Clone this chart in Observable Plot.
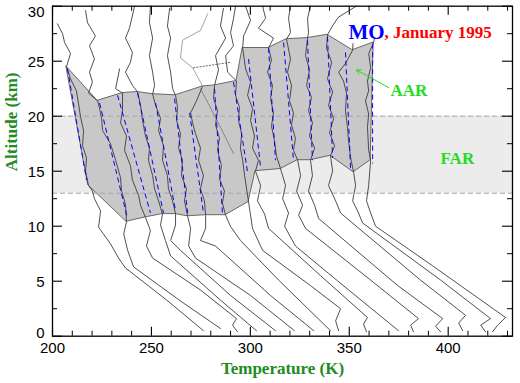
<!DOCTYPE html>
<html><head><meta charset="utf-8">
<script src="https://cdn.jsdelivr.net/npm/d3@7"></script>
<script src="https://cdn.jsdelivr.net/npm/@observablehq/plot@0.6"></script>
<style>html,body{margin:0;padding:0;background:#fff;} svg{display:block;}</style>
</head><body><div id="chart"></div>
<script>
// ---- data: temperature profiles [T (K, offset), altitude (km)] ----
const P0 = [[276.3,0.5],[257.6,3.3],[236.9,6.2],[233.4,7.1],[229.3,8.4],[223.3,9.9],[224.3,11.4],[221.2,12.5],[220.2,13.2],[218.2,13.7],[216.7,15.0],[217.2,16.2],[215.2,17.3],[215.7,18.7],[214.2,19.9],[213.1,21.2],[212.1,22.3],[209.1,23.4],[207.1,24.5],[209.1,25.7],[206.1,26.7],[205.1,27.5],[202.5,28.4]];
const P1 = [[284.9,0.7],[264.7,3.2],[241.0,6.3],[238.0,7.8],[236.0,9.3],[237.4,10.4],[236.9,12.0],[234.9,13.2],[234.4,14.4],[231.9,16.0],[229.3,17.5],[225.3,18.7],[224.8,19.8],[223.8,20.7],[222.8,21.4],[218.2,22.1],[220.2,23.1],[218.7,24.0],[221.2,25.2],[218.7,26.4],[221.7,27.3],[217.7,28.5],[216.7,29.6]];
const P2 = [[293.5,0.4],[291.0,1.0],[293.0,1.6],[274.8,4.2],[250.6,7.1],[247.5,8.2],[249.5,9.6],[247.0,10.8],[244.5,11.9],[243.5,12.8],[240.4,14.2],[239.4,15.5],[236.4,16.9],[237.4,18.2],[234.4,19.4],[235.4,20.5],[235.4,22.1],[231.9,22.5],[233.9,24.3]];
const P3 = [[303.1,0.5],[285.4,3.2],[259.7,7.3],[257.1,8.7],[254.6,10.1],[255.6,11.1],[253.6,12.3],[251.6,13.4],[250.6,14.6],[248.5,16.0],[249.0,17.1],[247.0,18.2],[245.5,19.6],[244.5,21.0],[243.0,22.2],[240.4,22.8],[236.9,24.0],[239.4,24.9],[240.4,25.8],[236.9,27.1],[238.9,28.0],[241.5,30.0]];
const P4 = [[312.7,0.5],[290.0,3.7],[264.7,7.8],[259.7,8.7],[262.2,10.1],[262.2,11.1],[260.7,12.3],[258.6,13.4],[258.1,14.6],[255.6,16.0],[256.1,17.3],[253.6,18.7],[254.6,19.8],[252.1,21.0],[250.6,22.0],[251.6,22.8],[250.6,24.0],[249.0,25.5],[250.6,27.1],[249.0,28.5],[249.5,30.0]];
const P5 = [[322.3,0.5],[300.1,3.7],[272.3,7.1],[268.8,8.2],[269.8,9.8],[268.3,10.9],[266.7,12.3],[267.7,13.4],[265.2,14.6],[265.7,16.0],[263.7,17.1],[264.7,18.4],[262.7,19.6],[263.2,20.8],[262.2,21.9],[260.7,22.5],[259.7,24.0],[258.1,25.5],[259.7,27.1],[258.1,28.2],[259.2,29.8]];
const P6 = [[332.0,0.5],[310.2,3.7],[282.4,8.2],[274.8,8.7],[277.4,9.8],[277.4,11.0],[276.8,12.3],[274.8,13.4],[276.3,14.6],[273.8,16.0],[274.8,17.1],[272.3,18.4],[270.8,19.4],[269.8,20.3],[272.8,21.4],[275.8,22.7]];
const P6upper = [[275.8,22.7],[274.8,23.1],[270.8,24.4],[264.7,25.3],[265.7,26.9],[274.8,27.8],[278.4,29.3]];
const P7 = [[340.5,0.5],[314.3,5.1],[295.0,8.7],[289.9,10.0],[287.5,11.0],[285.9,12.1],[286.9,13.2],[284.4,14.3],[285.4,15.5],[283.4,16.9],[284.4,18.0],[282.4,19.2],[283.4,20.5],[281.4,21.6],[281.9,22.8],[283.9,24.2],[282.4,25.5],[287.5,27.1],[284.9,28.2],[286.4,29.8]];
const P8 = [[344.6,0.5],[343.1,1.4],[345.6,2.5],[330.4,4.6],[306.2,7.8],[301.1,9.8],[300.1,11.0],[299.1,12.2],[298.1,13.4],[297.1,14.6],[296.1,16.0],[295.0,17.1],[295.6,18.4],[294.0,19.6],[294.5,20.8],[292.5,21.9],[293.0,23.2],[288.5,24.0],[287.5,25.5],[291.5,26.4],[290.0,27.6],[291.5,28.9],[292.5,30.0]];
const P9 = [[358.7,0.4],[357.2,1.1],[359.2,1.7],[335.5,5.5],[309.2,9.8],[307.2,11.1],[303.6,12.3],[305.2,13.7],[302.6,15.0],[304.1,16.0],[301.1,17.1],[302.1,18.2],[300.1,19.6],[301.1,20.7],[298.6,21.9],[300.1,23.1],[297.6,24.3],[296.1,26.2],[296.6,27.3],[300.1,28.7],[297.6,30.0]];
const P10 = [[374.9,0.5],[349.7,4.2],[322.8,8.2],[317.3,10.0],[319.3,11.2],[316.3,12.5],[317.8,13.7],[315.3,15.2],[313.2,16.4],[312.2,17.8],[310.7,19.1],[311.7,20.3],[310.2,21.6],[311.2,22.8],[308.7,24.0],[310.7,25.1],[309.2,26.2],[311.7,27.1],[304.1,28.0],[307.7,28.9],[306.2,30.0]];
const P11 = [[382.5,0.4],[381.0,1.0],[385.0,1.6],[360.8,5.1],[327.9,9.8],[324.4,11.0],[326.4,11.9],[323.4,13.2],[325.4,14.6],[323.9,16.0],[321.8,16.9],[322.8,18.0],[320.8,19.2],[321.8,20.3],[319.8,21.4],[320.8,22.8],[318.8,24.0],[320.3,25.2],[318.3,27.0],[320.3,27.6],[319.3,28.9],[320.3,30.0]];
const P12 = [[396.2,0.4],[393.6,0.9],[397.2,1.6],[374.5,4.6],[334.5,10.7],[332.5,11.9],[329.4,13.2],[331.4,14.6],[330.4,16.0],[332.5,17.1],[329.9,18.2],[331.4,19.4],[329.4,20.5],[330.9,21.7],[328.4,22.8],[329.9,24.2],[327.9,25.5],[328.9,27.1],[329.4,27.6],[328.9,28.9],[330.4,30.0]];
const P13 = [[407.3,0.5],[405.3,1.2],[408.8,1.9],[386.0,5.1],[345.6,11.2],[343.1,12.3],[339.5,13.7],[341.6,15.0],[340.5,16.4],[342.6,17.3],[340.0,18.5],[342.1,19.8],[339.5,21.0],[341.6,22.2],[339.0,23.4],[341.1,24.9],[338.5,26.2],[339.0,27.4],[341.5,28.2],[344.5,29.0],[349.0,29.5],[353.5,30.0]];
const P14 = [[418.9,0.4],[416.4,1.0],[421.4,1.6],[396.2,5.1],[356.7,10.3],[354.7,11.2],[351.7,12.3],[353.2,13.7],[352.2,14.9],[350.7,16.2],[349.6,17.8],[349.1,19.0],[348.1,20.5],[348.6,22.1],[347.1,23.2],[344.6,24.0],[348.1,24.8],[351.7,26.0],[351.9,26.6]];
const P15 = [[422.4,0.4],[425.0,1.0],[429.0,1.7],[392.1,6.4],[363.3,10.0],[360.8,11.2],[358.7,12.3],[359.8,13.7],[360.8,16.0],[359.8,16.9],[359.2,19.0],[359.8,20.2],[358.2,21.4],[359.8,22.3],[359.2,23.2],[360.8,24.4],[359.8,25.7],[362.3,26.7],[362.8,27.1]];
const dottedSeg = [[271.3,24.4],[290.0,24.9]];
const diagSeg = [[274.8,22.5],[282.4,19.9],[291.5,16.6]];

// AAR polygon: top and bottom vertex of each profile
const aarTopT = [207.1,222.8,235.4,243.0,250.6,262.2,275.8,281.9,293.0,296.1,309.2,318.3,328.9,339.0,351.7,362.3];
const aarTopZ = [24.5,21.4,22.1,22.2,22.0,21.9,22.7,22.8,23.2,26.2,26.2,27.0,27.1,27.4,26.0,26.7];
const aarBotT = [218.2,237.4,247.0,255.6,262.2,268.3,277.4,287.5,299.1,302.6,315.3,323.9,330.4,340.5,352.2,360.8];
const aarBotZ = [13.7,10.4,10.8,11.1,11.1,10.9,11.0,11.0,12.2,15.0,15.2,16.0,16.0,16.4,14.9,16.0];

// linear fits (blue dashed) in the AAR
const fitTopT = [207.6,223.8,232.9,243.0,252.1,261.7,269.3,281.9,291.5,299.1,309.2,316.8,328.9,339.0,348.1,361.8];
const fitTopZ = [24.3,21.2,21.9,22.1,21.2,21.6,20.3,22.5,23.1,25.2,26.2,26.7,26.9,27.2,25.8,26.6];
const fitBotT = [217.2,237.9,249.5,256.1,262.2,268.3,276.3,285.9,298.6,305.2,312.7,321.8,331.4,341.6,350.7,361.8];
const fitBotZ = [14.2,10.7,11.2,11.2,11.4,11.2,11.2,11.2,14.9,15.3,16.0,16.0,16.0,16.2,15.1,15.7];

// FAR layer (km)
const farRange = [13, 20];

// axes
const xDomain = [200, 432.5];
const yDomain = [0, 30];
const xMajor = [200,250,300,350,400];
const xMajorLabels = ["200","250","300","350","400"];
const xMinor = [210,220,230,240,260,270,280,290,310,320,330,340,360,370,380,390,410,420,430];
const yMajor = [0,5,10,15,20,25,30];
const yMajorLabels = ["0","5","10","15","20","25","30"];
const yMinor = [2.5,7.5,12.5,17.5,22.5,27.5];

// ---- build tables ----
const profiles = [P0,P1,P2,P3,P4,P5,P6,P7,P8,P9,P10,P11,P12,P13,P14,P15];
const profileRows = profiles.flatMap((pts, id) => pts.map(([T, z]) => ({T, z, id})));
const lightRows = P6upper.map(([T, z]) => ({T, z}));
const dottedRows = dottedSeg.map(([T, z]) => ({T, z}));
const diagRows = diagSeg.map(([T, z]) => ({T, z}));
const aarRows = aarTopT.map((t, i) => ({tt: t, zt: aarTopZ[i], tb: aarBotT[i], zb: aarBotZ[i]}));
const fitRows = fitTopT.map((t, i) => ({t1: t, z1: fitTopZ[i], t2: fitBotT[i], z2: fitBotZ[i]}));
const yLabelRows = yMajor.map((v, i) => ({v, label: yMajorLabels[i]}));
const yInner = yLabelRows.filter(d => d.v > yDomain[0] && d.v < yDomain[1]);
const yBottomLab = yLabelRows.filter(d => d.v === yDomain[0]);
const yTopLab = yLabelRows.filter(d => d.v === yDomain[1]);

const W = 520, H = 383, mL = 52, mR = 8, mT = 5.7, mB = 47.3;
const PH = H - mT - mB, PW = W - mL - mR;
const green = "#228b22", bright = "#22dd22";
const serif = "Liberation Serif, Times New Roman, serif";
const sans = "Liberation Sans, Arial, sans-serif";
const yLab = {y: "v", text: "label", frameAnchor: "left", dx: -8, textAnchor: "end", fontSize: 15, fontFamily: sans, fill: "black"};

const chart = Plot.plot({
  width: W, height: H,
  marginLeft: mL, marginRight: mR, marginTop: mT, marginBottom: mB,
  x: {domain: xDomain, axis: null},
  y: {domain: yDomain, axis: null},
  style: {background: "white", overflow: "visible"},
  marks: [
    Plot.rect([farRange], {x1: () => xDomain[0], x2: () => xDomain[1], y1: d => d[0], y2: d => d[1], fill: "#ececec"}),
    Plot.area(aarRows, {x1: "tb", y1: "zb", x2: "tt", y2: "zt", fill: "#c8c8c8", stroke: "#5a5a5a", strokeWidth: 0.9}),
    Plot.ruleY(farRange, {y: d => d, stroke: "#a6a6a6", strokeDasharray: "5,3", strokeWidth: 1}),
    Plot.line(profileRows, {x: "T", y: "z", z: "id", stroke: "#3c3c3c", strokeWidth: 0.9}),
    Plot.line(lightRows, {x: "T", y: "z", stroke: "#8a8a8a", strokeWidth: 0.8}),
    Plot.line(diagRows, {x: "T", y: "z", stroke: "#6a6a6a", strokeWidth: 0.7}),
    Plot.line(dottedRows, {x: "T", y: "z", stroke: "#555", strokeWidth: 0.9, strokeDasharray: "1.2,2"}),
    Plot.link(fitRows, {x1: "t1", y1: "z1", x2: "t2", y2: "z2", stroke: "#0000ff", strokeWidth: 1, strokeDasharray: "5,3.5"}),
    // annotations
    Plot.text(["MO"], {frameAnchor: "top-left", dx: 296, dy: 32.3, textAnchor: "start", lineAnchor: "bottom", fontSize: 21, fontWeight: "bold", fontFamily: serif, fill: "#0000ff"}),
    Plot.text([", January 1995"], {frameAnchor: "top-left", dx: 332, dy: 31.3, textAnchor: "start", lineAnchor: "bottom", fontSize: 17, fontWeight: "bold", fontFamily: serif, fill: "#ff0000"}),
    Plot.text(["AAR"], {frameAnchor: "top-left", dx: 338, dy: 89.3, textAnchor: "start", lineAnchor: "bottom", fontSize: 17, fontWeight: "bold", fontFamily: serif, fill: bright}),
    Plot.text(["FAR"], {frameAnchor: "top-left", dx: 388, dy: 157.3, textAnchor: "start", lineAnchor: "bottom", fontSize: 17, fontWeight: "bold", fontFamily: serif, fill: bright}),
    Plot.arrow([0], {x1: () => 369.9, y1: () => 22.6, x2: () => 353.7, y2: () => 24.2, stroke: bright, strokeWidth: 1, headLength: 7}),
    // frame & ticks
    Plot.frame({stroke: "black", strokeWidth: 1.3}),
    Plot.ruleX(xMajor, {x: d => d, insetTop: PH - 9, stroke: "black", strokeWidth: 1.1}),
    Plot.ruleX(xMinor, {x: d => d, insetTop: PH - 5, stroke: "black", strokeWidth: 1}),
    Plot.ruleX(xMajor, {x: d => d, insetBottom: PH - 9, stroke: "black", strokeWidth: 1.1}),
    Plot.ruleX(xMinor, {x: d => d, insetBottom: PH - 5, stroke: "black", strokeWidth: 1}),
    Plot.ruleY(yMajor, {y: d => d, insetRight: PW - 10, stroke: "black", strokeWidth: 1.1}),
    Plot.ruleY(yMinor, {y: d => d, insetRight: PW - 5, stroke: "black", strokeWidth: 1}),
    Plot.ruleY(yMajor, {y: d => d, insetLeft: PW - 10, stroke: "black", strokeWidth: 1.1}),
    Plot.ruleY(yMinor, {y: d => d, insetLeft: PW - 5, stroke: "black", strokeWidth: 1}),
    // tick labels
    Plot.text(xMajor, {x: d => d, frameAnchor: "bottom", dy: 17, text: (d, i) => xMajorLabels[i], fontSize: 15, fontFamily: sans, fill: "black"}),
    Plot.text(yInner, {...yLab, dy: 1}),
    Plot.text(yBottomLab, {...yLab, dy: -3.5}),
    Plot.text(yTopLab, {...yLab, dy: 5.5}),
    // axis titles
    Plot.text(["Temperature (K)"], {frameAnchor: "bottom", dy: 38, fontSize: 17, fontWeight: "bold", fontFamily: serif, fill: green}),
    Plot.text(["Altitude (km)"], {frameAnchor: "left", dx: -41, rotate: -90, fontSize: 17, fontWeight: "bold", fontFamily: serif, fill: green})
  ]
});
document.getElementById("chart").append(chart);
</script></body></html>
